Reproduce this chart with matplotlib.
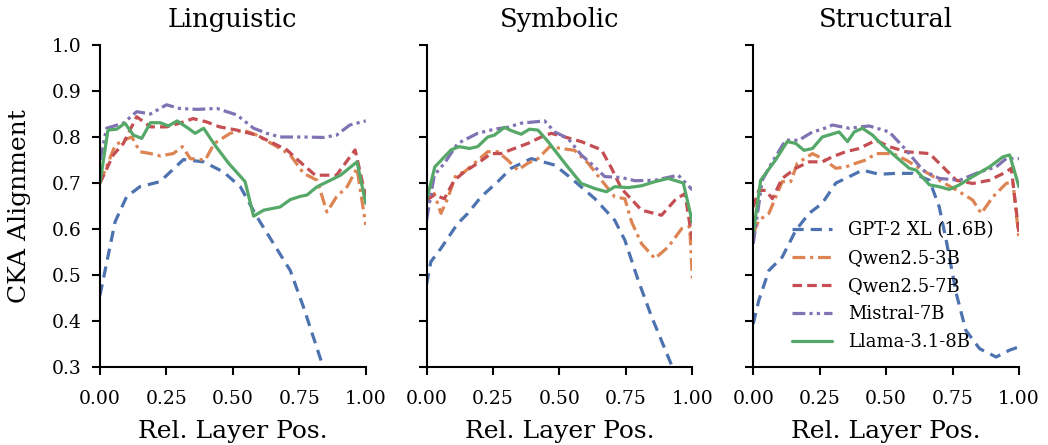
import matplotlib
matplotlib.use("Agg")
import matplotlib.pyplot as plt
import seaborn as sns

sns.set_theme(style="ticks", palette="deep")
plt.rcParams['font.family'] = ['DejaVu Serif']
for k in ['text.color', 'axes.labelcolor', 'xtick.color', 'ytick.color', 'axes.edgecolor']:
    plt.rcParams[k] = 'black'

panels = ["Linguistic", "Symbolic", "Structural"]
models = ["GPT-2 XL (1.6B)", "Qwen2.5-3B", "Qwen2.5-7B", "Mistral-7B", "Llama-3.1-8B"]

# (relative layer position, CKA), one list per panel
gpt2_x = [
    [0.0, 0.057, 0.10, 0.15, 0.226, 0.314, 0.39, 0.465, 0.528, 0.59, 0.716, 0.766, 0.84, 0.92, 1.0],
    [0.0, 0.016, 0.054, 0.117, 0.155, 0.205, 0.268, 0.318, 0.394, 0.482, 0.545, 0.633, 0.708, 0.746, 0.796, 0.847, 0.922, 1.0],
    [0.0, 0.021, 0.059, 0.109, 0.16, 0.21, 0.26, 0.311, 0.348, 0.411, 0.474, 0.537, 0.60, 0.663, 0.70, 0.726, 0.764, 0.80, 0.852, 0.914, 0.965, 1.0],
]
gpt2_y = [
    [0.456, 0.616, 0.67, 0.692, 0.703, 0.751, 0.746, 0.724, 0.692, 0.627, 0.51, 0.43, 0.30, 0.20, 0.12],
    [0.48, 0.529, 0.558, 0.612, 0.634, 0.67, 0.703, 0.732, 0.753, 0.739, 0.71, 0.666, 0.619, 0.576, 0.489, 0.409, 0.304, 0.22],
    [0.394, 0.445, 0.51, 0.539, 0.597, 0.634, 0.656, 0.70, 0.71, 0.728, 0.719, 0.721, 0.721, 0.706, 0.648, 0.576, 0.46, 0.38, 0.34, 0.322, 0.337, 0.344],
]

q3_x = [
    [0.0, 0.057, 0.088, 0.12, 0.15, 0.19, 0.226, 0.276, 0.31, 0.34, 0.396, 0.43, 0.49, 0.54, 0.59, 0.666, 0.716, 0.766, 0.817, 0.854, 0.89, 0.93, 0.967, 1.0],
    [0.0, 0.029, 0.054, 0.079, 0.11, 0.142, 0.18, 0.23, 0.268, 0.305, 0.343, 0.381, 0.419, 0.463, 0.507, 0.557, 0.608, 0.658, 0.708, 0.746, 0.771, 0.809, 0.859, 0.909, 0.96, 0.99, 1.0],
    [0.0, 0.021, 0.059, 0.109, 0.141, 0.166, 0.223, 0.26, 0.311, 0.348, 0.386, 0.424, 0.462, 0.525, 0.575, 0.638, 0.70, 0.764, 0.826, 0.858, 0.902, 0.952, 0.977, 1.0],
]
q3_y = [
    [0.70, 0.782, 0.793, 0.80, 0.768, 0.764, 0.759, 0.764, 0.779, 0.753, 0.75, 0.786, 0.808, 0.815, 0.804, 0.779, 0.761, 0.721, 0.706, 0.637, 0.67, 0.692, 0.732, 0.609],
    [0.663, 0.677, 0.634, 0.666, 0.717, 0.724, 0.743, 0.768, 0.768, 0.75, 0.728, 0.743, 0.753, 0.779, 0.775, 0.771, 0.743, 0.706, 0.67, 0.666, 0.616, 0.568, 0.536, 0.561, 0.601, 0.605, 0.493],
    [0.59, 0.619, 0.634, 0.703, 0.703, 0.743, 0.764, 0.753, 0.732, 0.735, 0.743, 0.75, 0.764, 0.764, 0.75, 0.728, 0.706, 0.685, 0.663, 0.634, 0.67, 0.699, 0.703, 0.58],
]

q7_x = [
    [0.0, 0.05, 0.088, 0.138, 0.19, 0.25, 0.30, 0.35, 0.40, 0.45, 0.515, 0.59, 0.703, 0.766, 0.81, 0.89, 0.96, 1.0],
    [0.0, 0.029, 0.067, 0.104, 0.142, 0.192, 0.243, 0.28, 0.33, 0.381, 0.431, 0.469, 0.52, 0.582, 0.658, 0.696, 0.733, 0.809, 0.884, 0.935, 0.972, 1.0],
    [0.0, 0.021, 0.047, 0.072, 0.109, 0.16, 0.21, 0.26, 0.298, 0.348, 0.399, 0.462, 0.512, 0.575, 0.663, 0.70, 0.764, 0.826, 0.889, 0.952, 0.971, 1.0],
]
q7_y = [
    [0.70, 0.761, 0.786, 0.844, 0.822, 0.822, 0.83, 0.84, 0.833, 0.822, 0.815, 0.804, 0.772, 0.739, 0.717, 0.717, 0.772, 0.67],
    [0.663, 0.674, 0.666, 0.706, 0.724, 0.743, 0.764, 0.764, 0.775, 0.786, 0.80, 0.808, 0.80, 0.79, 0.772, 0.732, 0.688, 0.641, 0.63, 0.663, 0.677, 0.576],
    [0.648, 0.684, 0.684, 0.666, 0.71, 0.732, 0.746, 0.746, 0.757, 0.768, 0.775, 0.793, 0.779, 0.768, 0.764, 0.743, 0.706, 0.699, 0.706, 0.724, 0.732, 0.59],
]

mis_x = [
    [0.0, 0.025, 0.088, 0.138, 0.19, 0.25, 0.30, 0.365, 0.44, 0.515, 0.578, 0.628, 0.678, 0.766, 0.84, 0.89, 0.94, 1.0],
    [0.0, 0.029, 0.067, 0.117, 0.192, 0.255, 0.305, 0.356, 0.444, 0.482, 0.532, 0.582, 0.633, 0.67, 0.733, 0.784, 0.859, 0.947, 1.0],
    [0.0, 0.034, 0.072, 0.122, 0.172, 0.223, 0.26, 0.298, 0.361, 0.436, 0.512, 0.575, 0.638, 0.70, 0.776, 0.852, 0.914, 0.952, 1.0],
]
mis_y = [
    [0.75, 0.819, 0.83, 0.855, 0.85, 0.87, 0.862, 0.86, 0.862, 0.848, 0.819, 0.808, 0.80, 0.80, 0.799, 0.804, 0.826, 0.835],
    [0.62, 0.717, 0.743, 0.786, 0.808, 0.817, 0.821, 0.83, 0.835, 0.811, 0.797, 0.761, 0.735, 0.714, 0.712, 0.705, 0.706, 0.717, 0.685],
    [0.568, 0.706, 0.746, 0.793, 0.793, 0.811, 0.817, 0.826, 0.819, 0.824, 0.811, 0.772, 0.728, 0.71, 0.706, 0.724, 0.735, 0.753, 0.753],
]

lla_x = [
    [0.0, 0.03, 0.063, 0.094, 0.126, 0.157, 0.19, 0.226, 0.258, 0.29, 0.327, 0.358, 0.39, 0.433, 0.484, 0.546, 0.578, 0.616, 0.678, 0.716, 0.754, 0.779, 0.817, 0.867, 0.905, 0.967, 1.0],
    [0.0, 0.031, 0.092, 0.123, 0.161, 0.192, 0.23, 0.255, 0.293, 0.318, 0.356, 0.387, 0.419, 0.457, 0.52, 0.582, 0.633, 0.677, 0.708, 0.758, 0.809, 0.859, 0.909, 0.966, 1.0],
    [0.0, 0.028, 0.084, 0.128, 0.16, 0.191, 0.223, 0.26, 0.323, 0.355, 0.38, 0.411, 0.449, 0.487, 0.537, 0.587, 0.613, 0.663, 0.70, 0.738, 0.776, 0.826, 0.889, 0.94, 0.965, 1.0],
]
lla_y = [
    [0.70, 0.815, 0.817, 0.83, 0.804, 0.797, 0.831, 0.831, 0.824, 0.835, 0.821, 0.808, 0.819, 0.782, 0.743, 0.703, 0.628, 0.641, 0.648, 0.664, 0.671, 0.674, 0.692, 0.706, 0.717, 0.746, 0.656],
    [0.663, 0.735, 0.772, 0.779, 0.775, 0.779, 0.80, 0.804, 0.821, 0.814, 0.806, 0.817, 0.815, 0.79, 0.743, 0.699, 0.688, 0.681, 0.692, 0.69, 0.694, 0.703, 0.71, 0.70, 0.615],
    [0.59, 0.706, 0.75, 0.79, 0.786, 0.771, 0.775, 0.80, 0.811, 0.79, 0.811, 0.819, 0.804, 0.782, 0.757, 0.732, 0.728, 0.696, 0.692, 0.686, 0.696, 0.714, 0.735, 0.757, 0.761, 0.692],
]

series_x = [gpt2_x, q3_x, q7_x, mis_x, lla_x]
series_y = [gpt2_y, q3_y, q7_y, mis_y, lla_y]

pal = sns.color_palette("deep")
colors = [pal[0], pal[1], pal[3], pal[4], pal[2]]
styles = [(0, (3.5, 2.2)), (0, (4, 1.5, 1, 1.5)), (0, (3, 1.6)), (0, (4, 1.3, 1, 1.3, 1, 1.3)), '-']

fig, axes = plt.subplots(1, 3, figsize=(10.48, 4.45), dpi=100, sharey=True)
fig.subplots_adjust(left=0.0954, right=0.9723, bottom=0.175, top=0.899, wspace=0.229)

for p, ax in enumerate(axes):
    for m in range(len(models)):
        ax.plot(series_x[m][p], series_y[m][p], color=colors[m], ls=styles[m], lw=2.3, label=models[m])
    ax.set_xlim(0, 1)
    ax.set_ylim(0.3, 1.0)
    ax.set_xticks([0, 0.25, 0.5, 0.75, 1.0])
    ax.set_title(panels[p], fontsize=18.5, pad=13)
    ax.set_xlabel("Rel. Layer Pos.", fontsize=18, labelpad=8.5)
    ax.tick_params(labelsize=13.5, length=6, width=1.5)
    ax.tick_params(axis='x', pad=10.5)
    ax.tick_params(axis='y', pad=7)
    for s in ax.spines.values():
        s.set_linewidth(1.5)
    sns.despine(ax=ax)

axes[0].set_ylabel("CKA Alignment", fontsize=18, labelpad=15)
axes[2].legend(loc='lower right', bbox_to_anchor=(0.965, 0.0), frameon=False, fontsize=13,
               handlelength=2.2, handletextpad=0.9, labelspacing=0.55)

fig.savefig("out.png", dpi=100)
